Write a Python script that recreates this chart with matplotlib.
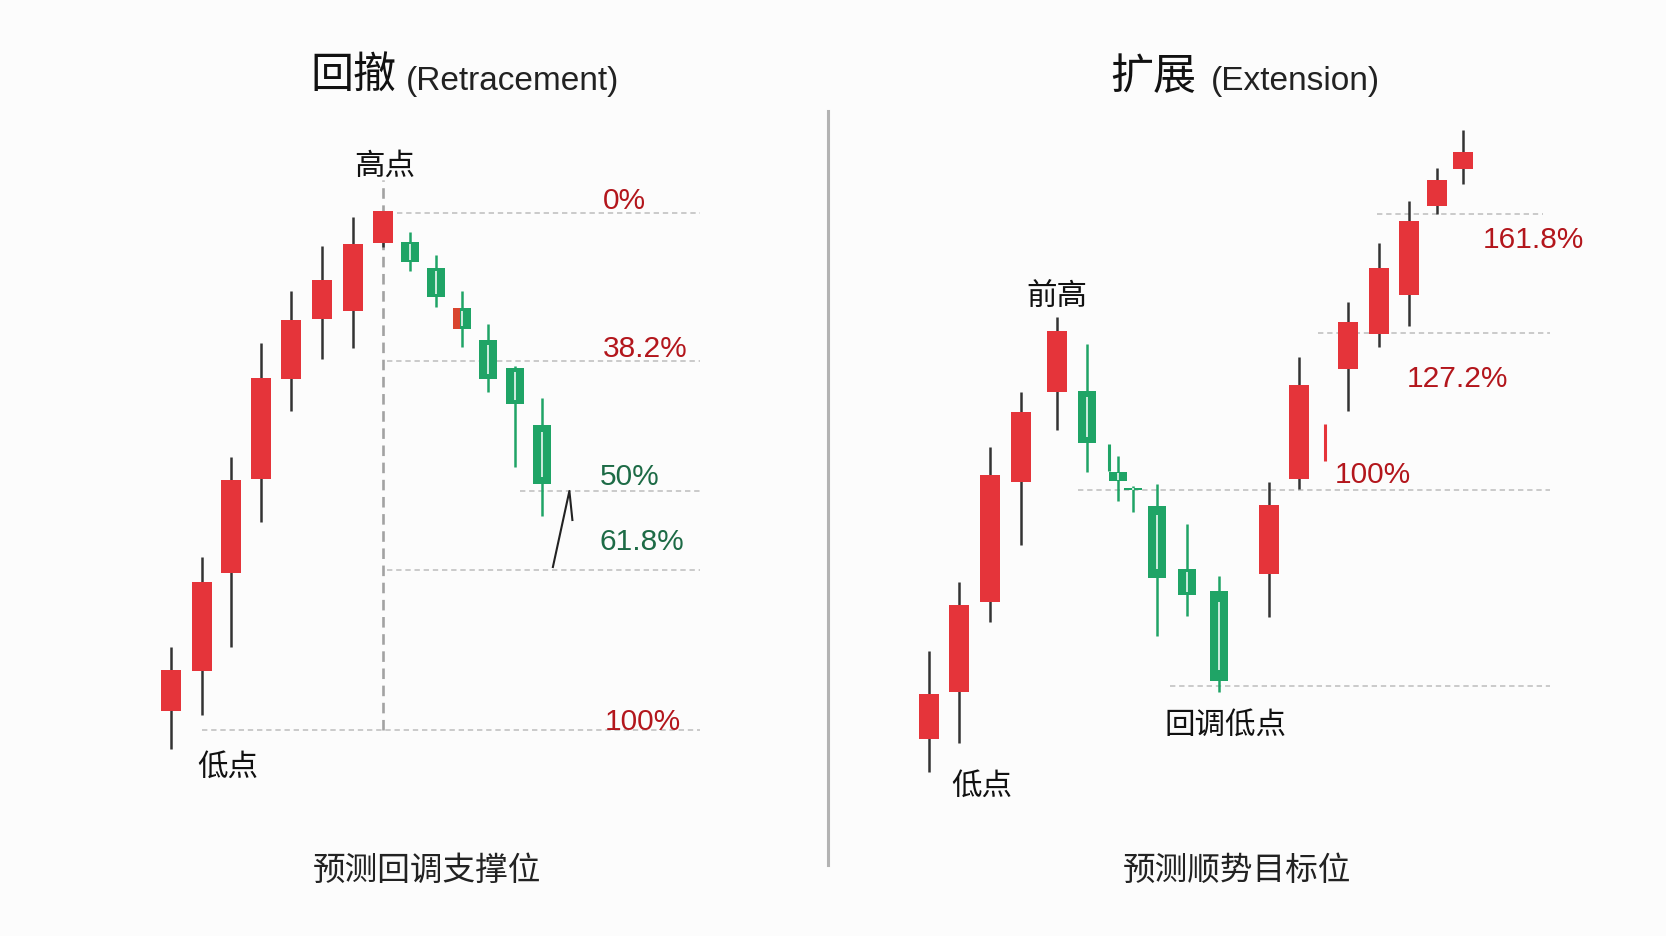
import matplotlib.pyplot as plt
from matplotlib.lines import Line2D

# 回撤 (left) : candle time positions and OHLC prices
ret_t = [1.0, 2.02, 3.0, 4.0, 5.0, 6.03, 7.07, 8.06, 8.96, 9.85, 10.7, 11.57, 12.47, 13.38]
ret_open = [28.8, 32.8, 42.6, 52.0, 62.0, 68.0, 68.8, 75.6, 75.7, 73.1, 69.1, 65.9, 63.1, 57.4]
ret_close = [32.9, 41.7, 51.9, 62.1, 67.9, 71.9, 75.5, 78.8, 73.7, 70.2, 67.0, 62.0, 59.5, 51.5]
ret_high = [35.2, 44.2, 54.2, 65.6, 70.8, 75.3, 78.2, 78.8, 76.7, 74.4, 70.8, 67.5, 63.3, 60.1]
ret_low = [25.0, 28.4, 35.2, 47.7, 58.8, 64.0, 65.1, 75.2, 72.8, 69.2, 65.2, 60.7, 53.2, 48.3]
ret_mixed = [10]  # half red / half green candle

ret_levels = ["0%", "38.2%", "50%", "61.8%", "100%"]
ret_level_price = [78.6, 63.85, 50.8, 42.95, 26.9]
ret_level_start = [8.52, 8.19, 12.63, 8.19, 2.02]
ret_level_end = 18.63
ret_label_x = [15.4, 15.4, 15.3, 15.3, 15.45]
ret_label_y = [79.1, 64.3, 51.5, 45.0, 27.0]
ret_label_up = [True, True, False, False, True]
ret_peak_top = 81.9

# 扩展 (right)
ext_t = [1.0, 2.0, 3.02, 4.07, 5.27, 6.27, 7.29, 7.79, 8.6, 9.6, 10.66,
         12.33, 13.33, 14.98, 16.01, 17.01, 17.92, 18.79]
ext_open = [26.0, 30.7, 39.7, 51.7, 60.7, 60.8, 52.7, 51.1, 49.3, 43.0, 40.8,
            42.5, 52.0, 63.0, 66.5, 70.4, 79.3, 83.0]
ext_close = [30.5, 39.4, 52.4, 58.7, 66.8, 55.6, 51.8, 50.9, 42.1, 40.4, 31.8,
             49.4, 61.4, 67.7, 73.1, 77.8, 81.9, 84.7]
ext_high = [34.8, 41.7, 55.2, 60.7, 68.2, 65.5, 54.3, 51.3, 51.5, 47.5, 42.3,
            51.7, 64.2, 69.7, 75.6, 79.8, 83.1, 86.9]
ext_low = [22.7, 25.6, 37.7, 45.4, 56.9, 52.7, 49.8, 48.7, 36.3, 38.3, 30.7,
           38.2, 51.0, 58.8, 65.2, 67.3, 78.5, 81.5]
# stray strokes in the picture
ext_stray_t = [6.99, 14.2]
ext_stray_lo = [52.8, 53.8]
ext_stray_hi = [55.5, 57.5]
ext_stray_up = [False, True]

ext_levels = ["100%", "127.2%", "161.8%"]
ext_level_price = [50.95, 66.6, 78.5]
ext_level_start = [5.97, 13.98, 15.92]
ext_level_end = [21.7, 21.7, 21.47]
ext_label_x = [14.53, 16.92, 19.47]
ext_label_y = [51.7, 61.3, 75.2]
ext_pullback_price = 31.35
ext_pullback_start = 9.03

RED = "#e5343a"
GREEN = "#1fa466"
WICK = "#333333"
LBL_RED = "#b3161c"
LBL_GREEN = "#1d6b46"
GRID = "#bdbdbd"
CJK = ["Noto Sans CJK SC", "DejaVu Sans"]
LAT = ["Liberation Sans", "DejaVu Sans"]

W, H = 1666, 937
fig = plt.figure(figsize=(W / 100, H / 100), dpi=100, facecolor="#fcfcfc")
ax_l = fig.add_axes([0, 0, 0.5, 1])
ax_r = fig.add_axes([0.5, 0, 0.5, 1])
ax_l.set_xlim(-4.7, 23.067)
ax_r.set_xlim(-2.2, 25.567)
for ax in (ax_l, ax_r):
    ax.set_ylim(6.3, 100)
    ax.set_axis_off()
    ax.patch.set_alpha(0)


def candles(ax, t, o, c, hi, lo):
    for i in range(len(t)):
        up = c[i] >= o[i]
        col = RED if up else GREEN
        w = 0.667 if up else 0.6
        ax.vlines(t[i], lo[i], hi[i], color=WICK if up else GREEN, lw=1.8, zorder=2)
        bot, top = min(o[i], c[i]), max(o[i], c[i])
        ax.bar(t[i], max(top - bot, 0.25), bottom=bot, width=w, color=col, zorder=3)
        if not up:
            pad = (top - bot) * 0.12
            ax.vlines(t[i], bot + pad, top - pad, color="white", lw=1.1, zorder=4)


def dashed(ax, y, x0, x1):
    ax.hlines(y, x0, x1, color=GRID, lw=1.1, linestyles=(0, (3.5, 2.5)), zorder=1)


# left panel
for y, x0 in zip(ret_level_price, ret_level_start):
    dashed(ax_l, y, x0, ret_level_end)
ax_l.vlines(ret_t[7], ret_level_price[-1], ret_peak_top, color="#a2a2a2", lw=1.9,
            linestyles=(0, (4, 2.5)), zorder=1)
candles(ax_l, ret_t, ret_open, ret_close, ret_high, ret_low)
for i in ret_mixed:
    ax_l.bar(ret_t[i] - 0.18, ret_open[i] - ret_close[i], bottom=ret_close[i],
             width=0.24, color="#d9452f", zorder=4)
for lab, x, y, up in zip(ret_levels, ret_label_x, ret_label_y, ret_label_up):
    ax_l.text(x, y, lab, family=LAT, fontsize=21.5, ha="left", va="baseline",
              color=LBL_RED if up else LBL_GREEN)
ax_l.plot([13.73, 14.28, 14.38], [43.2, 50.8, 47.9], color="#222222", lw=1.5, zorder=5)
ax_l.text(8.12, 83.4, "高点", family=CJK, fontsize=22, ha="center", va="center", color="#111")
ax_l.text(2.91, 23.3, "低点", family=CJK, fontsize=22, ha="center", va="center", color="#111")

# right panel
for y, x0, x1 in zip(ext_level_price, ext_level_start, ext_level_end):
    dashed(ax_r, y, x0, x1)
dashed(ax_r, ext_pullback_price, ext_pullback_start, ext_level_end[0])
candles(ax_r, ext_t, ext_open, ext_close, ext_high, ext_low)
for x, lo, hi, up in zip(ext_stray_t, ext_stray_lo, ext_stray_hi, ext_stray_up):
    ax_r.vlines(x, lo, hi, color=RED if up else GREEN, lw=2.2, zorder=3)
for lab, x, y in zip(ext_levels, ext_label_x, ext_label_y):
    ax_r.text(x, y, lab, family=LAT, fontsize=21.5, ha="left", va="baseline", color=LBL_RED)
ax_r.text(5.27, 70.3, "前高", family=CJK, fontsize=22, ha="center", va="center", color="#111")
ax_r.text(2.76, 21.4, "低点", family=CJK, fontsize=22, ha="center", va="center", color="#111")
ax_r.text(10.87, 27.5, "回调低点", family=CJK, fontsize=22, ha="center", va="center", color="#111")

# titles, captions, separator
fig.text(396 / W, 1 - 77 / H, "回撤", family=CJK, fontsize=31, ha="right", va="center", color="#111")
fig.text(406 / W, 1 - 90 / H, "(Retracement)", family=LAT, fontsize=24, ha="left",
         va="baseline", color="#222")
fig.text(1196 / W, 1 - 77 / H, "扩展", family=CJK, fontsize=31, ha="right", va="center", color="#111")
fig.text(1211 / W, 1 - 90 / H, "(Extension)", family=LAT, fontsize=24, ha="left",
         va="baseline", color="#222")
fig.text(427 / W, 1 - 871 / H, "预测回调支撑位", family=CJK, fontsize=23.5, ha="center",
         va="center", color="#222")
fig.text(1237 / W, 1 - 871 / H, "预测顺势目标位", family=CJK, fontsize=23.5, ha="center",
         va="center", color="#222")
fig.add_artist(Line2D([827.7 / W, 827.7 / W], [1 - 111.6 / H, 1 - 866 / H],
                      transform=fig.transFigure, color="#b3b3b3", lw=2.2))

fig.savefig("out.png", dpi=100, facecolor=fig.get_facecolor())
